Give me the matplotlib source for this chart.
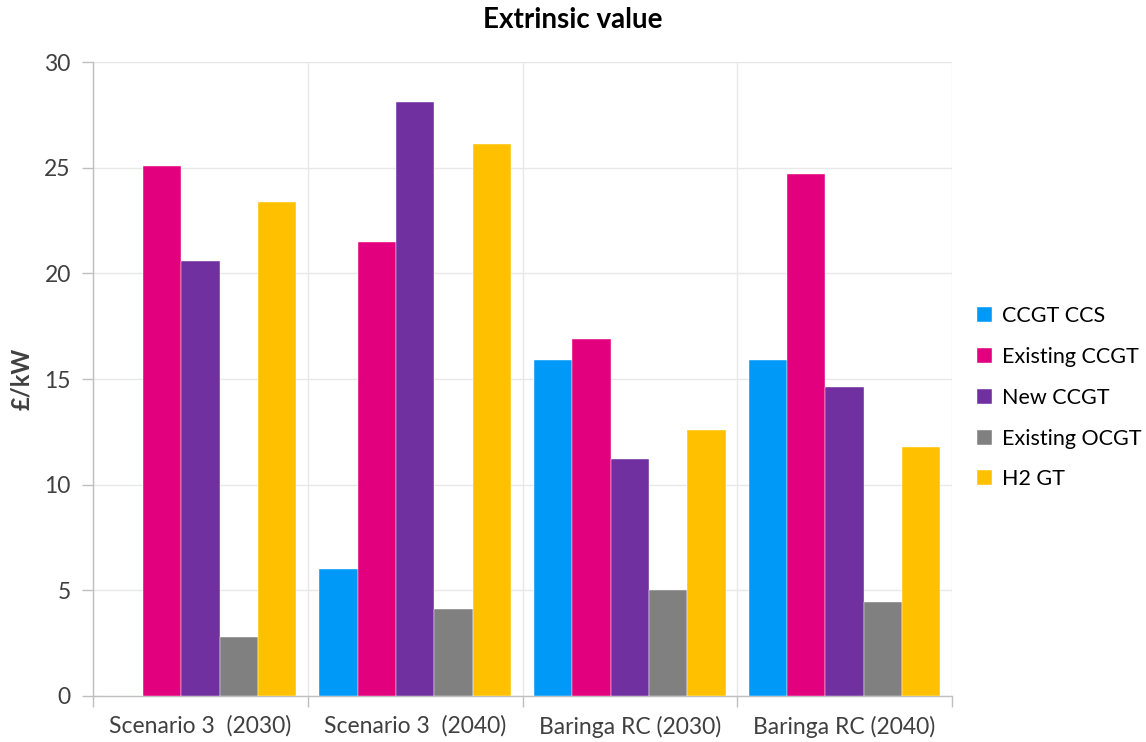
import matplotlib
matplotlib.use("Agg")
import matplotlib.pyplot as plt
import numpy as np

plt.rcParams["font.family"] = ["Lato", "DejaVu Sans"]

# Extrinsic value by technology, £/kW
scenarios = ["Scenario 3  (2030)", "Scenario 3  (2040)", "Baringa RC (2030)", "Baringa RC (2040)"]
technologies = ["CCGT CCS", "Existing CCGT", "New CCGT", "Existing OCGT", "H2 GT"]
ccgt_ccs = [0.0, 6.0, 15.9, 15.9]
existing_ccgt = [25.1, 21.5, 16.9, 24.7]
new_ccgt = [20.6, 28.1, 11.2, 14.6]
existing_ocgt = [2.8, 4.1, 5.0, 4.45]
h2_gt = [23.4, 26.1, 12.6, 11.8]
colors = ["#0099F7", "#E3007E", "#7030A0", "#808080", "#FFC000"]

series = [ccgt_ccs, existing_ccgt, new_ccgt, existing_ocgt, h2_gt]

fig = plt.figure(figsize=(11.46, 7.42), dpi=100)
ax = fig.add_axes([0.0812, 0.062, 0.7495, 0.8544])

n = len(series)
width = 1.0 / (n + 0.6)
x = np.arange(len(scenarios))
for i, (vals, name, col) in enumerate(zip(series, technologies, colors)):
    offset = (i - (n - 1) / 2) * width
    ax.bar(x + offset, vals, width, color=col, label=name, zorder=3,
           edgecolor="white", linewidth=0.3)

ax.set_xlim(-0.5, len(scenarios) - 0.5)
ax.set_ylim(0, 30)
ax.set_yticks(np.arange(0, 31, 5))
ax.set_xticks(x)
ax.set_xticklabels(scenarios)

# category separators and horizontal grid
ax.set_xticks(np.arange(-0.5, len(scenarios), 1), minor=True)
ax.grid(axis="y", color="#E8E8E8", linewidth=1, zorder=0)
ax.grid(axis="x", which="minor", color="#E8E8E8", linewidth=1, zorder=0)
ax.tick_params(axis="x", which="major", length=0, pad=14, labelsize=16.5, labelcolor="#404040")
ax.tick_params(axis="x", which="minor", length=8, color="#BFBFBF", width=1)
ax.tick_params(axis="y", length=8, color="#BFBFBF", width=1, pad=8, labelsize=16.5,
               labelcolor="#404040")

for side in ["top", "right"]:
    ax.spines[side].set_visible(False)
for side in ["left", "bottom"]:
    ax.spines[side].set_color("#BFBFBF")
    ax.spines[side].set_linewidth(1)

ax.set_ylabel("£/kW", fontsize=17, fontweight="bold", color="#404040", labelpad=8)
fig.text(0.5, 0.973, "Extrinsic value", ha="center", va="center", fontsize=20,
         fontweight="bold")

ax.legend(loc="center left", bbox_to_anchor=(0.8435, 0.464), bbox_transform=fig.transFigure,
          frameon=False, fontsize=15.5, handlelength=0.7, handleheight=0.7,
          handletextpad=0.45, labelspacing=0.97, borderpad=0, labelcolor="black")

fig.savefig("out.png", dpi=100)
